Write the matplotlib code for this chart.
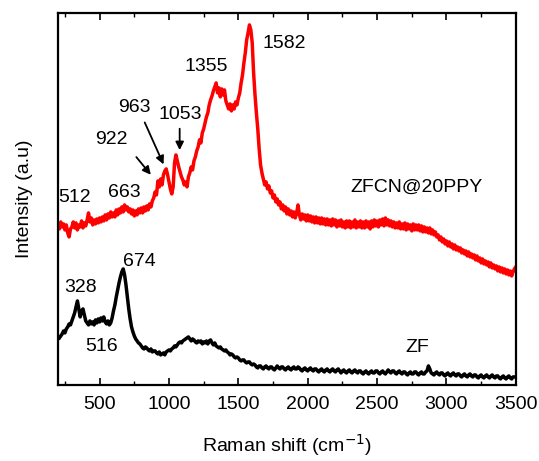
import matplotlib
matplotlib.use("Agg")
import numpy as np
import matplotlib.pyplot as plt
from matplotlib.ticker import MultipleLocator

plt.rcParams['font.family'] = ['Liberation Sans', 'DejaVu Sans']

# ZFCN@20PPY spectrum, sampled every 10 cm-1 from 200 to 3500
red_shift = np.arange(200, 3501, 10)
red_int = [
    160, 156, 163, 158, 161, 155, 160, 152, 148, 156,
    158, 163, 157, 162, 155, 160, 158, 164, 157, 162,
    159, 165, 172, 163, 167, 160, 165, 161, 166, 162,
    167, 163, 168, 164, 170, 165, 171, 167, 173, 168,
    172, 168, 175, 170, 176, 172, 178, 173, 180, 175,
    178, 173, 176, 171, 175, 169, 174, 170, 176, 172,
    177, 172, 178, 174, 179, 175, 181, 178, 184, 187,
    193, 190, 204, 198, 206, 200, 210, 214, 216, 210,
    203, 196, 191, 198, 222, 230, 224, 218, 213, 208,
    205, 200, 203, 198, 208, 212, 218, 215, 224, 228,
    234, 238, 245, 242, 252, 256, 262, 268, 272, 280,
    285, 289, 294, 298, 302, 292, 297, 288, 296, 290,
    295, 284, 280, 276, 281, 274, 280, 276, 283, 280,
    287, 292, 302, 310, 322, 332, 345, 352, 360, 355,
    342, 312, 290, 272, 256, 236, 220, 212, 206, 200,
    203, 196, 199, 192, 194, 187, 190, 183, 186, 180,
    183, 176, 180, 174, 178, 171, 176, 170, 174, 168,
    173, 167, 172, 180, 170, 165, 171, 166, 170, 164,
    170, 164, 169, 163, 168, 162, 168, 162, 167, 161,
    167, 161, 166, 160, 166, 160, 165, 159, 166, 160,
    165, 158, 164, 159, 165, 158, 163, 157, 164, 158,
    164, 157, 163, 158, 165, 157, 163, 158, 164, 157,
    163, 157, 164, 158, 163, 156, 164, 158, 165, 159,
    164, 158, 165, 160, 166, 159, 167, 160, 165, 159,
    164, 158, 163, 157, 162, 157, 163, 156, 161, 156,
    162, 155, 161, 156, 160, 154, 161, 155, 160, 155,
    160, 154, 159, 153, 158, 153, 157, 152, 157, 151,
    155, 150, 153, 148, 150, 145, 148, 143, 146, 141,
    144, 139, 143, 138, 141, 136, 140, 135, 138, 134,
    137, 132, 135, 131, 134, 129, 133, 128, 131, 127,
    130, 125, 129, 124, 127, 122, 126, 121, 124, 120,
    123, 118, 122, 117, 120, 116, 119, 114, 118, 113,
    117, 112, 116, 111, 115, 110, 114, 109, 113, 116,
    118,
]

# ZF spectrum, sampled every 10 cm-1 from 210 to 3500
black_shift = np.arange(210, 3501, 10)
black_int = [
    47, 49, 51, 54, 52, 56, 58, 61, 60,
    64, 68, 72, 78, 84, 76, 68, 74, 76, 70,
    64, 62, 60, 64, 61, 63, 60, 65, 62, 66,
    63, 67, 64, 68, 63, 61, 64, 60, 62, 67,
    74, 80, 88, 95, 102, 108, 113, 116, 110, 100,
    88, 76, 66, 58, 53, 49, 46, 44, 42, 41,
    39, 37, 36, 38, 37, 35, 34, 36, 33, 34,
    34, 32, 31, 33, 30, 31, 32, 30, 33, 34,
    35, 34, 36, 37, 39, 38, 40, 42, 43, 42,
    44, 45, 46, 47, 48, 46, 44, 46, 45, 43,
    42, 44, 43, 44, 41, 43, 42, 44, 41, 44,
    45, 42, 40, 42, 39, 38, 37, 38, 36, 35,
    34, 35, 33, 32, 30, 31, 30, 28, 27, 28,
    27, 25, 24, 25, 25, 23, 22, 23, 23, 21,
    20, 21, 20, 18, 17, 19, 19, 17, 16, 18,
    19, 17, 16, 18, 18, 16, 15, 17, 19, 17,
    16, 18, 18, 16, 15, 17, 18, 16, 15, 17,
    18, 16, 16, 18, 17, 15, 14, 16, 17, 15,
    14, 16, 17, 15, 14, 16, 16, 14, 13, 15,
    16, 14, 13, 15, 16, 14, 13, 15, 16, 14,
    13, 15, 16, 14, 12, 14, 15, 13, 12, 14,
    15, 13, 12, 14, 15, 13, 12, 14, 14, 12,
    11, 13, 14, 12, 11, 13, 14, 12, 12, 14,
    14, 12, 11, 13, 14, 12, 11, 13, 15, 13,
    12, 14, 14, 12, 11, 13, 14, 12, 11, 13,
    13, 11, 10, 12, 13, 11, 11, 13, 13, 11,
    10, 12, 13, 11, 11, 13, 14, 19, 16, 12,
    11, 10, 12, 13, 11, 10, 12, 12, 10, 9,
    11, 12, 10, 9, 11, 12, 10, 9, 11, 11,
    9, 8, 10, 11, 9, 8, 10, 11, 9, 8,
    10, 10, 8, 7, 9, 10, 8, 7, 9, 10,
    8, 7, 9, 10, 8, 7, 9, 9, 7, 6,
    8, 9, 7, 6, 8, 9, 7, 6, 8, 8,
    8,
]

# peak labels: (text, x, y)
red_peaks = [
    ('512', 320, 187), ('663', 680, 192), ('922', 586, 245), ('963', 752, 277),
    ('1053', 1084, 270), ('1355', 1272, 318), ('1582', 1834, 341),
]
black_peaks = [('328', 363, 97), ('674', 788, 123), ('516', 514, 38)]

# arrows pointing at shoulders: (start, end)
arrows = [
    ((752, 230), (882, 208)),
    ((817, 265), (969, 218)),
    ((1077, 259), (1077, 232)),
]

fig = plt.figure(figsize=(5.39, 4.61), dpi=100)
ax = fig.add_axes([0.1076, 0.165, 0.8494, 0.807])

ax.plot(red_shift, red_int, color='#ff0000', lw=2.5)
ax.plot(black_shift, black_int, color='black', lw=2.5)

for txt, x, y in red_peaks + black_peaks:
    ax.text(x, y, txt, fontsize=14, ha='center', va='center')
ax.text(2786, 198, 'ZFCN@20PPY', fontsize=14, ha='center', va='center')
ax.text(2786, 37, 'ZF', fontsize=14, ha='center', va='center')

for (x0, y0), (x1, y1) in arrows:
    ax.annotate('', xy=(x1, y1), xytext=(x0, y0),
                arrowprops=dict(arrowstyle='-|>', color='black', lw=1.3,
                                mutation_scale=12))

ax.set_xlim(200, 3500)
ax.set_ylim(0, 372)
ax.xaxis.set_major_locator(MultipleLocator(500))
ax.xaxis.set_minor_locator(MultipleLocator(250))
ax.tick_params(axis='x', which='both', direction='in', top=True, labelsize=14)
ax.tick_params(axis='x', which='major', length=5, width=1.2, pad=8)
ax.tick_params(axis='x', which='minor', length=3, width=1)
ax.set_yticks([])
for s in ax.spines.values():
    s.set_linewidth(1.6)

ax.set_xlabel('Raman shift (cm$^{-1}$)', fontsize=14, labelpad=14)
ax.set_ylabel('Intensity (a.u)', fontsize=14, labelpad=18)

fig.savefig('out.png', dpi=100)
